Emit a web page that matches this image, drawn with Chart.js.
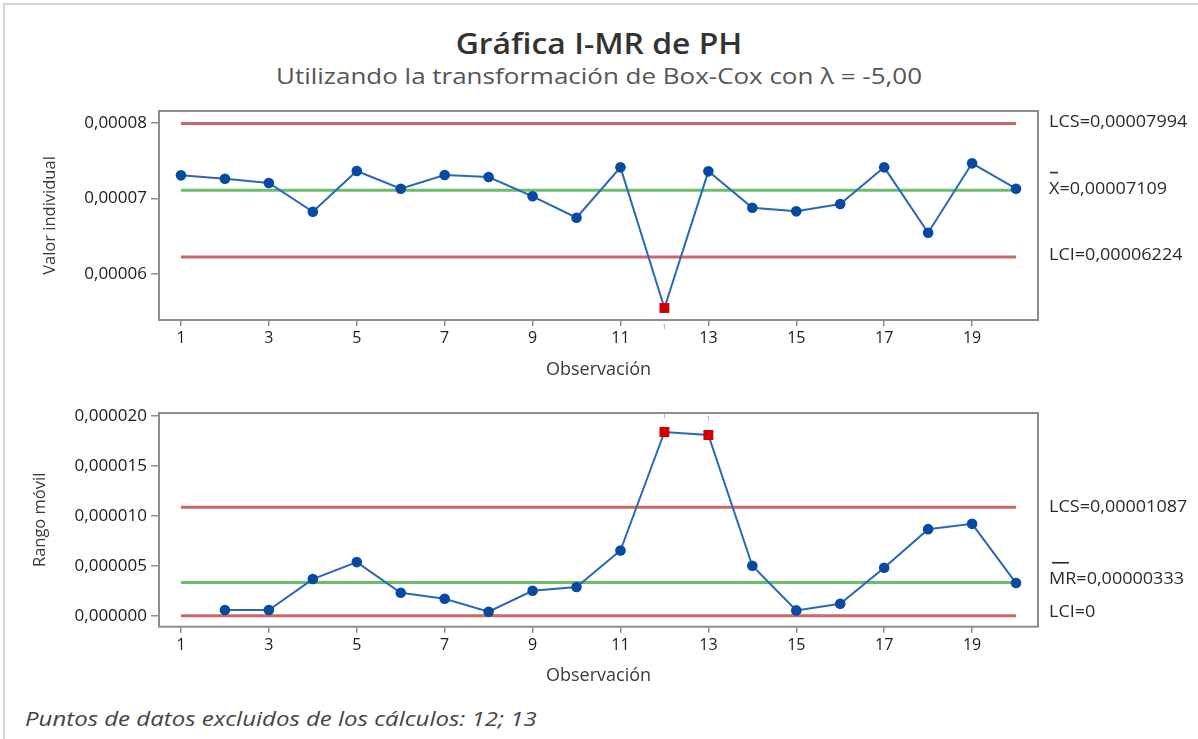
<!DOCTYPE html>
<html>
<head>
<meta charset="utf-8">
<title>Gráfica I-MR de PH</title>
<script src="https://cdn.jsdelivr.net/npm/chart.js@4.4.1/dist/chart.umd.min.js"></script>
<style>
  html, body { margin: 0; padding: 0; background: #fff; }
  #page { position: relative; width: 1198px; height: 739px; overflow: hidden; background: #fff;
          font-family: "Open Sans", "Noto Sans", sans-serif; }
  .edge { position: absolute; background: #d4d4d4; }
  .txt { position: absolute; white-space: nowrap; }
  .wide { left: 0; width: 1198px; text-align: center; }
  #title { top: 23px; font-size: 29px; font-weight: 600; color: #333; transform: scaleX(1.1); }
  #subtitle { top: 60px; font-size: 22px; color: #555; transform: scaleX(1.18); }
  #note { left: 25px; top: 705px; font-size: 20px; font-style: italic; color: #444;
          transform: scaleX(1.2); transform-origin: 0 50%; }
  canvas { position: absolute; left: 0; }
  #iChart { top: 0; }
  #mrChart { top: 390px; }
</style>
</head>
<body>
<div id="page">
  <div class="edge" style="left:3px;top:3px;width:2px;height:736px;"></div>
  <div class="edge" style="left:3px;top:3px;width:1195px;height:2px;"></div>
  <div class="txt wide" id="title">Gráfica I-MR de PH</div>
  <div class="txt wide" id="subtitle">Utilizando la transformación de Box-Cox con λ = -5,00</div>
  <canvas id="iChart" width="1198" height="390"></canvas>
  <canvas id="mrChart" width="1198" height="310"></canvas>
  <div class="txt" id="note">Puntos de datos excluidos de los cálculos: 12; 13</div>
</div>
<script>
// Observation numbers and the values of each chart
const observations = [1, 2, 3, 4, 5, 6, 7, 8, 9, 10, 11, 12, 13, 14, 15, 16, 17, 18, 19, 20];
const individualValues = [
  0.00007307, 0.00007262, 0.00007205, 0.00006825, 0.00007364,
  0.00007130, 0.00007311, 0.00007285, 0.00007029, 0.00006746,
  0.00007413, 0.00005550, 0.00007360, 0.00006878, 0.00006830,
  0.00006927, 0.00007413, 0.00006547, 0.00007466, 0.00007130
];
const movingRanges = [
  null, 0.00000057, 0.00000057, 0.00000367, 0.00000537,
  0.00000230, 0.00000170, 0.00000040, 0.00000250, 0.00000287,
  0.00000653, 0.00001840, 0.00001810, 0.00000500, 0.00000053,
  0.00000120, 0.00000480, 0.00000867, 0.00000920, 0.00000327
];

// Control limits: upper, center, lower
const iLimits = [0.00007994, 0.00007109, 0.00006224];
const iLimitLabels = ['LCS=0,00007994', 'X=0,00007109', 'LCI=0,00006224'];
const mrLimits = [0.00001087, 0.00000333, 0];
const mrLimitLabels = ['LCS=0,00001087', 'MR=0,00000333', 'LCI=0'];

// Points that fail test 1
const iFlagged = [12];
const mrFlagged = [12, 13];

// Axis ticks
const xTicks = [1, 3, 5, 7, 9, 11, 13, 15, 17, 19];
const iTicks = [0.00006, 0.00007, 0.00008];
const mrTicks = [0, 0.000005, 0.00001, 0.000015, 0.00002];

const FONT = '"Open Sans", "Noto Sans", sans-serif';
const RED_LIMIT = 'rgb(202,104,104)';
const GREEN_CENTER = 'rgb(108,188,108)';
const BLUE_LINE = 'rgb(38,104,186)';
const BLUE_POINT = 'rgb(8,74,162)';
const RED_POINT = 'rgb(212,0,0)';

Chart.defaults.font.family = FONT;

function limitDataset(value, color) {
  return {
    data: [{ x: observations[0], y: value }, { x: observations[observations.length - 1], y: value }],
    borderColor: color, borderWidth: 3, pointRadius: 0, order: 2, tension: 0
  };
}

function seriesDataset(values, flagged) {
  const pts = [];
  observations.forEach((x, i) => { if (values[i] !== null) pts.push({ x: x, y: values[i] }); });
  const isFlag = ctx => flagged.includes(ctx.raw && ctx.raw.x);
  return {
    data: pts,
    borderColor: BLUE_LINE,
    borderWidth: 2,
    order: 0,
    tension: 0,
    pointStyle: ctx => isFlag(ctx) ? 'rect' : 'circle',
    pointRadius: ctx => isFlag(ctx) ? 7 : 5.3,
    pointBackgroundColor: ctx => isFlag(ctx) ? RED_POINT : BLUE_POINT,
    pointBorderColor: ctx => isFlag(ctx) ? RED_POINT : BLUE_POINT,
    pointBorderWidth: 0
  };
}

// Frame, limit labels and test-failure marks drawn over the chart area
function decorations(limits, labels, labelShift, barSpans, flagged, values, flagOffset) {
  return {
    id: 'decorations',
    afterDraw(chart) {
      const ctx = chart.ctx;
      const a = chart.chartArea;
      const ys = chart.scales.y;
      const xs = chart.scales.x;
      ctx.save();
      ctx.strokeStyle = '#8d8d8d';
      ctx.lineWidth = 2;
      ctx.strokeRect(a.left, a.top, a.right - a.left, a.bottom - a.top);

      ctx.fillStyle = '#2a2a2a';
      ctx.font = '17px ' + FONT;
      ctx.textBaseline = 'middle';
      ctx.textAlign = 'left';
      const tx = a.right + 11;
      limits.forEach((v, i) => {
        const y = ys.getPixelForValue(v) + labelShift[i];
        ctx.save();
        ctx.translate(tx, y);
        ctx.scale(1.06, 1);
        ctx.fillText(labels[i], 0, 0);
        ctx.restore();
        if (barSpans[i]) {
          ctx.fillRect(tx + barSpans[i][0], y - 17.5, barSpans[i][1], 1.6);
        }
      });

      ctx.fillStyle = '#8a8a8a';
      ctx.font = '7px ' + FONT;
      ctx.textAlign = 'center';
      flagged.forEach(n => {
        const i = observations.indexOf(n);
        ctx.fillText('1', xs.getPixelForValue(n), ys.getPixelForValue(values[i]) + flagOffset);
      });
      ctx.restore();
    }
  };
}

function buildChart(canvasId, opts) {
  return new Chart(document.getElementById(canvasId), {
    type: 'line',
    data: {
      datasets: [
        seriesDataset(opts.values, opts.flagged),
        limitDataset(opts.limits[0], RED_LIMIT),
        limitDataset(opts.limits[1], GREEN_CENTER),
        limitDataset(opts.limits[2], RED_LIMIT)
      ]
    },
    options: {
      responsive: false,
      animation: false,
      devicePixelRatio: 1,
      layout: { padding: { top: opts.padTop, right: 160, left: 0, bottom: 0 } },
      plugins: { legend: { display: false }, tooltip: { enabled: false }, title: { display: false } },
      scales: {
        x: {
          type: 'linear',
          min: 0.5,
          max: 20.5,
          afterBuildTicks: s => { s.ticks = xTicks.map(v => ({ value: v })); },
          afterFit: s => { s.height = opts.xAxisHeight; },
          ticks: { color: '#1c1c1c', font: { size: 16 }, padding: 3, maxRotation: 0, autoSkip: false,
                   callback: v => String(v) },
          grid: { drawOnChartArea: false, drawTicks: true, tickLength: 6, color: '#8d8d8d', lineWidth: 1.5 },
          border: { display: false },
          title: { display: true, text: 'Observación', color: '#3a3a3a', font: { size: 18 },
                   padding: { top: 0, bottom: opts.xTitlePad } }
        },
        y: {
          min: opts.yMin,
          max: opts.yMax,
          afterBuildTicks: s => { s.ticks = opts.yTicks.map(v => ({ value: v })); },
          afterFit: s => { s.width = 159; },
          ticks: { color: '#1c1c1c', font: { size: 17 }, padding: 4,
                   callback: v => v.toFixed(opts.decimals).replace('.', ',') },
          grid: { drawOnChartArea: false, drawTicks: true, tickLength: 8, color: '#8d8d8d', lineWidth: 1.5 },
          border: { display: false },
          title: { display: true, text: opts.yTitle, color: '#3a3a3a', font: { size: 16.5 },
                   padding: { top: opts.yTitlePad, bottom: 0 } }
        }
      }
    },
    plugins: [decorations(opts.limits, opts.limitLabels, opts.labelShift, opts.bars,
                          opts.flagged, opts.values, opts.flagOffset)]
  });
}

buildChart('iChart', {
  values: individualValues, flagged: iFlagged,
  limits: iLimits, limitLabels: iLimitLabels, labelShift: [-1, -1, -1.5],
  bars: [null, [1, 8], null], flagOffset: 19,
  yMin: 0.00005391, yMax: 0.00008159, yTicks: iTicks, decimals: 5,
  yTitle: 'Valor individual', yTitlePad: 40,
  padTop: 111, xAxisHeight: 70, xTitlePad: 9
});

buildChart('mrChart', {
  values: movingRanges, flagged: mrFlagged,
  limits: mrLimits, limitLabels: mrLimitLabels, labelShift: [0, -3, -4],
  bars: [null, [3, 17], null], flagOffset: -16,
  yMin: -0.0000011, yMax: 0.0000203, yTicks: mrTicks, decimals: 6,
  yTitle: 'Rango móvil', yTitlePad: 30,
  padTop: 23, xAxisHeight: 73.3, xTitlePad: 13
});
</script>
</body>
</html>
